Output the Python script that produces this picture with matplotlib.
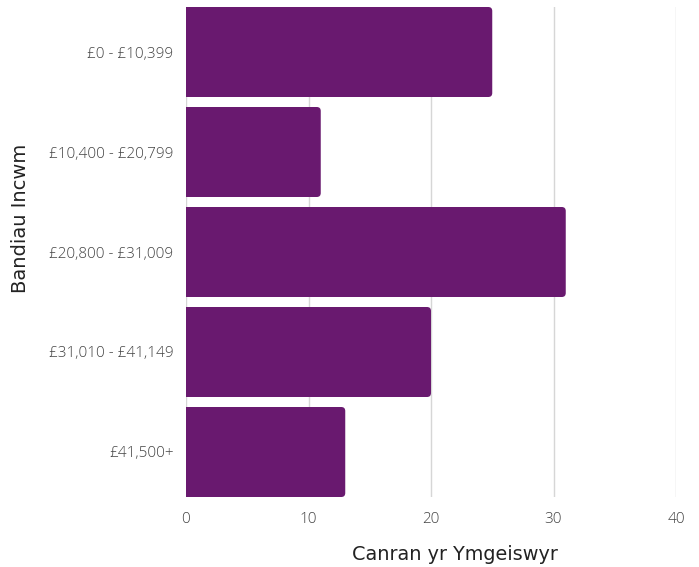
import matplotlib
matplotlib.use("Agg")
import matplotlib.pyplot as plt
from matplotlib.patches import FancyBboxPatch

categories = ["£0 - £10,399", "£10,400 - £20,799", "£20,800 - £31,009",
              "£31,010 - £41,149", "£41,500+"]
values = [25, 11, 31, 20, 13]
xticks = [0, 10, 20, 30, 40]

W, H = 699, 567
fig = plt.figure(figsize=(W / 100, H / 100), dpi=100)
left, right, top, bottom = 186, 676, 7, 497
ax = fig.add_axes([left / W, 1 - bottom / H, (right - left) / W, (bottom - top) / H])

color = "#69196f"
bars = ax.barh(range(len(categories)), values, height=0.9, color=color)
ax.set_xlim(0, 40)
ax.set_ylim(len(categories) - 0.55, -0.45)

# replace rectangles by rounded-right-end patches
px_per_x = (right - left) / 40
px_per_y = (bottom - top) / 4.9
r_px = 4
rx = r_px / px_per_x
ry = r_px / px_per_y
for b in bars:
    x0, y0 = b.get_x(), b.get_y()
    w, h = b.get_width(), b.get_height()
    b.set_visible(False)
    p = FancyBboxPatch((x0 - 2, y0), w + 2, h,
                       boxstyle=f"round,pad=0,rounding_size={rx}",
                       mutation_aspect=ry / rx,
                       facecolor=color, edgecolor="none", zorder=2)
    ax.add_patch(p)

ax.set_xticks(xticks)
ax.set_yticks(range(len(categories)))
ax.set_yticklabels(categories)
ax.grid(axis="x", color="#d6d6d6", linewidth=1, zorder=0)
ax.set_axisbelow(True)
for s in ["top", "right", "bottom", "left"]:
    ax.spines[s].set_visible(False)
ax.tick_params(axis="both", length=0, labelsize=11, labelcolor="#444444")
ax.tick_params(axis="y", pad=9)
ax.tick_params(axis="x", pad=11)
for lab in ax.get_xticklabels() + ax.get_yticklabels():
    lab.set_fontfamily("Open Sans")
    lab.set_fontweight(300)

ax.set_xlabel("Canran yr Ymgeiswyr", fontsize=13.9, color="#222222",
              fontfamily="DejaVu Sans", va="baseline", ha="center")
ax.xaxis.set_label_coords((455 - left) / (right - left), (bottom - 560) / (bottom - top))
ax.set_ylabel("Bandiau Incwm", fontsize=14, color="#222222",
              fontfamily="DejaVu Sans", va="center", ha="center")
ax.yaxis.set_label_coords((21 - left) / (right - left), (bottom - 218) / (bottom - top))

fig.savefig("out.png", dpi=100)
